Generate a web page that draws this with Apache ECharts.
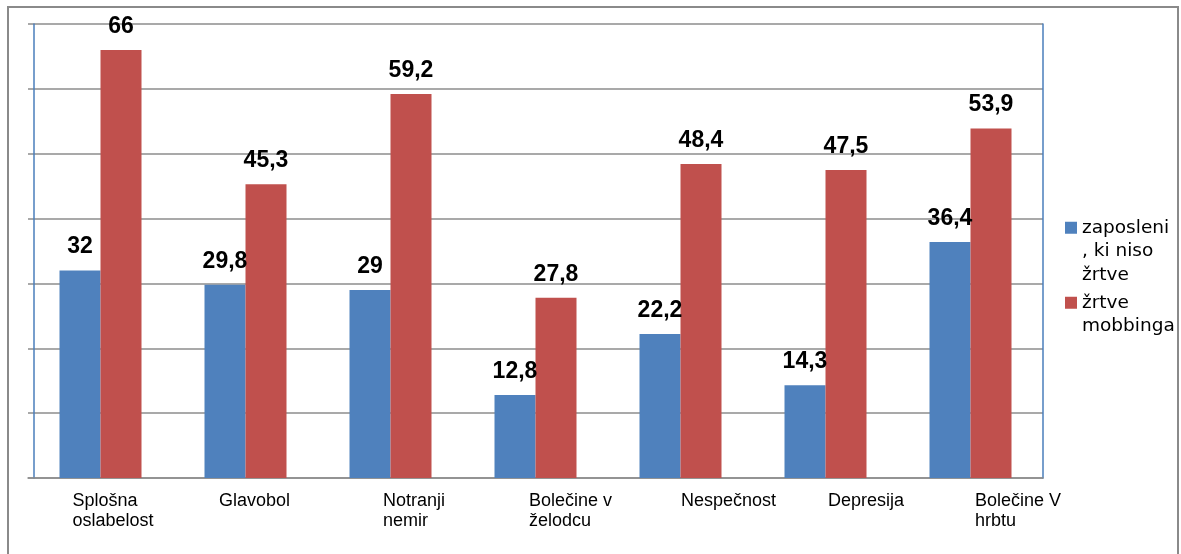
<!DOCTYPE html>
<html>
<head>
<meta charset="utf-8">
<script src="https://cdn.jsdelivr.net/npm/echarts@6/dist/echarts.min.js"></script>
<style>
  html, body { margin: 0; padding: 0; background: #fff; overflow: hidden; }
  #wrap { position: relative; width: 1181px; height: 554px; }
  #chart { position: absolute; left: 0; top: 0; width: 1181px; height: 554px; }
  #frame { position: absolute; left: 7px; top: 6px; width: 1168px; height: 600px;
           border: 2px solid #8a8a8a; pointer-events: none; }
</style>
</head>
<body>
<div id="wrap">
  <div id="chart"></div>
  <div id="frame"></div>
</div>
<script>
// ---- data ----
const categories = ['Splošna\noslabelost', 'Glavobol', 'Notranji\nnemir', 'Bolečine v\nželodcu', 'Nespečnost', 'Depresija', 'Bolečine V\nhrbtu'];
const seriesNames = ['zaposleni, ki niso žrtve', 'žrtve mobbinga'];
const nonVictims = [32, 29.8, 29, 12.8, 22.2, 14.3, 36.4];
const victims = [66, 45.3, 59.2, 27.8, 48.4, 47.5, 53.9];
const yTicks = [0, 10, 20, 30, 40, 50, 60, 70];

// ---- styling ----
const legendWrapped = {
  'zaposleni, ki niso žrtve': '\n\nzaposleni\n, ki niso\nžrtve',
  'žrtve mobbinga': '\nžrtve\nmobbinga'
};
const labelSpacer = [44, 47, 85, 87, 101, 105, 109]; // horizontal placement of x labels
const TEXT_BOX = 100;
const LABEL_FONT = '18px "Liberation Sans"';
const measureCtx = document.createElement('canvas').getContext('2d');
measureCtx.font = LABEL_FONT;

const rich = {
  t: { fontSize: 18, lineHeight: 20, color: '#000', fontFamily: 'Liberation Sans' }
};
const labelTexts = categories.map((cat, idx) => {
  rich['s' + idx] = { width: labelSpacer[idx], fontSize: 18, lineHeight: 20, fontFamily: 'Liberation Sans' };
  return cat.split('\n').map((line, li) => {
    const w = measureCtx.measureText(line).width;
    const key = 'r' + idx + '_' + li;
    rich[key] = { width: Math.max(1, TEXT_BOX - w), fontSize: 18, lineHeight: 20, fontFamily: 'Liberation Sans' };
    return '{s' + idx + '| }{t|' + line + '}{' + key + '| }';
  }).join('\n');
});

const chart = echarts.init(document.getElementById('chart'), null, { renderer: 'canvas' });
const fmt = v => String(v).replace('.', ',');
const blue = '#4F81BD', red = '#C0504D', grid = '#8c8c8c', axisBlue = '#4a7ebb';
const lh = 23.5;
const legendText = { fontSize: 18.5, lineHeight: lh, color: '#000', fontFamily: 'DejaVu Sans' };

chart.setOption({
  animation: false,
  backgroundColor: '#fff',
  grid: { left: 28, right: 138, top: 24, bottom: 76, outerBoundsMode: 'none' },
  xAxis: {
    type: 'category',
    data: categories,
    axisLine: { show: true, lineStyle: { color: grid, width: 1.5 } },
    axisTick: { show: false },
    axisLabel: {
      interval: 0,
      margin: 13,
      rich: rich,
      formatter: (val, idx) => labelTexts[idx]
    }
  },
  yAxis: [
    {
      type: 'value', min: yTicks[0], max: yTicks[yTicks.length - 1], interval: yTicks[1] - yTicks[0],
      offset: -6,
      axisLine: { show: true, lineStyle: { color: axisBlue, width: 1.5 } },
      axisTick: { show: false },
      axisLabel: { show: false },
      splitLine: { show: true, lineStyle: { color: grid, width: 1.5 } }
    },
    {
      type: 'value', position: 'right', min: yTicks[0], max: yTicks[yTicks.length - 1], interval: yTicks[1] - yTicks[0],
      axisLine: { show: true, lineStyle: { color: axisBlue, width: 1.5 } },
      axisTick: { show: false },
      axisLabel: { show: false },
      splitLine: { show: false }
    }
  ],
  legend: [
    {
      data: [seriesNames[0]], orient: 'vertical', left: 1065, top: 169, padding: 0,
      itemWidth: 12, itemHeight: 12, icon: 'rect',
      formatter: n => legendWrapped[n],
      textStyle: legendText
    },
    {
      data: [seriesNames[1]], orient: 'vertical', left: 1065, top: 267.5, padding: 0,
      itemWidth: 12, itemHeight: 12, icon: 'rect',
      formatter: n => legendWrapped[n],
      textStyle: legendText
    }
  ],
  series: [
    {
      name: seriesNames[0], type: 'bar', data: nonVictims, barWidth: 41, barGap: '0%',
      itemStyle: { color: blue },
      label: { show: true, position: 'top', distance: 12, formatter: p => fmt(p.value),
               fontSize: 23, fontWeight: 'bold', color: '#000', fontFamily: 'Liberation Sans' }
    },
    {
      name: seriesNames[1], type: 'bar', data: victims, barWidth: 41, barGap: '0%',
      itemStyle: { color: red },
      label: { show: true, position: 'top', distance: 12, formatter: p => fmt(p.value),
               fontSize: 23, fontWeight: 'bold', color: '#000', fontFamily: 'Liberation Sans' }
    }
  ]
});
</script>
</body>
</html>
